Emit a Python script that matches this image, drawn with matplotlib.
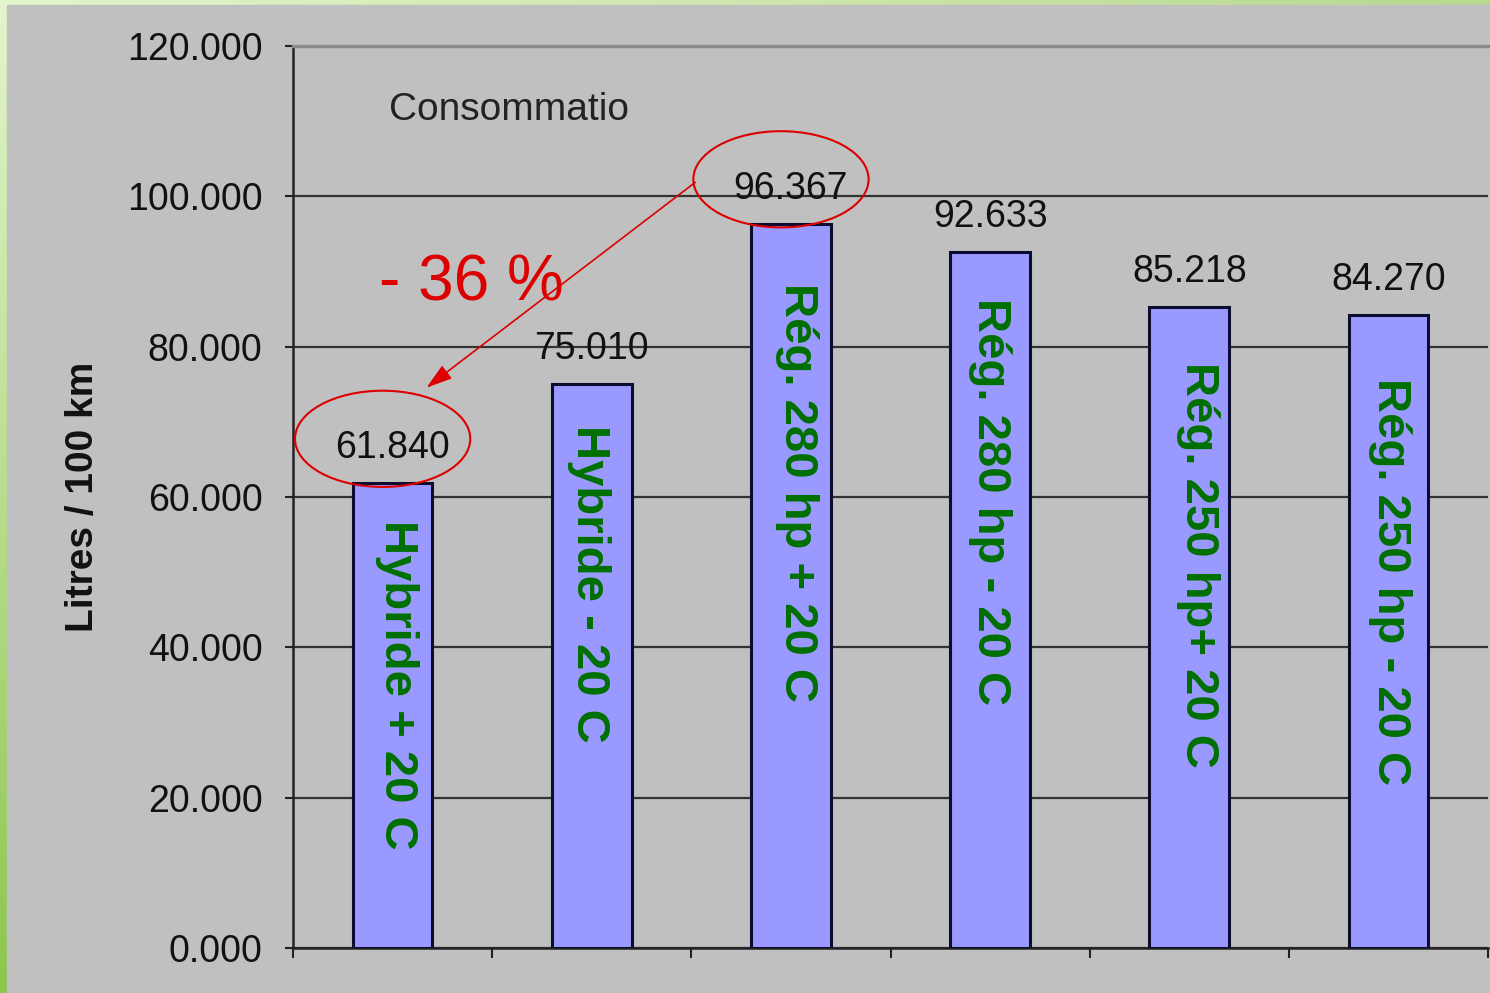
import numpy as np
import matplotlib
matplotlib.use('Agg')
import matplotlib.pyplot as plt
from matplotlib.patches import Ellipse

plt.rcParams['font.family'] = ['Liberation Sans', 'DejaVu Sans']

# --- DATA ---
categories = ['Hybride + 20 C', 'Hybride - 20 C', 'Rég. 280 hp + 20 C',
              'Rég. 280 hp - 20 C', 'Rég. 250 hp+ 20 C', 'Rég. 250 hp - 20 C']
values = [61.840, 75.010, 96.367, 92.633, 85.218, 84.270]
value_labels = ['61.840', '75.010', '96.367', '92.633', '85.218', '84.270']
y_ticks = [0, 20, 40, 60, 80, 100, 120]
y_tick_labels = ['0.000', '20.000', '40.000', '60.000', '80.000', '100.000', '120.000']

# layout of the hand-placed labels inside the bars (drop below bar top, x shift)
LABEL_DROP = [4.9, 5.4, 7.9, 6.2, 7.3, 8.4]
LABEL_SHIFT = [0.02, -0.015, 0.03, 0.0, 0.045, 0.01]

BAR_COLOR = '#9999ff'
EDGE_COLOR = '#0c0c30'
GREEN = '#007000'
RED = '#dd0000'
BG = '#c0c0c0'

W, H = 1490, 993
fig = plt.figure(figsize=(W / 100, H / 100), dpi=100)

# slide border: light green gradient behind a grey panel
bg_ax = fig.add_axes([0, 0, 1, 1])
yy = np.linspace(0, 1, 200)[:, None]
xx = np.linspace(0, 1, 300)[None, :]
top_left = np.array([0.89, 0.96, 0.80])
bottom_left = np.array([0.55, 0.78, 0.30])
top_right = np.array([0.72, 0.85, 0.56])
grad = (top_left * (1 - yy[..., None]) * (1 - xx[..., None])
        + bottom_left * yy[..., None] * (1 - xx[..., None])
        + top_right * (1 - yy[..., None]) * xx[..., None]
        + bottom_left * yy[..., None] * xx[..., None])
bg_ax.imshow(grad, aspect='auto', extent=[0, 1, 0, 1], origin='upper')
bg_ax.add_patch(plt.Rectangle((7 / W, 0), 1, 1 - 5 / H, color=BG, zorder=2))
bg_ax.set_xlim(0, 1)
bg_ax.set_ylim(0, 1)
bg_ax.axis('off')

ax = fig.add_axes([293 / W, 1 - 948 / H, (1488 - 293) / W, (948 - 46) / H])
ax.set_facecolor(BG)

x = np.arange(len(values))
ax.bar(x, values, width=0.40, color=BAR_COLOR, edgecolor=EDGE_COLOR,
       linewidth=2.2, zorder=3)

# value labels above bars
for xi, v, lab in zip(x, values, value_labels):
    ax.annotate(lab, (xi, v), xytext=(0, 18), textcoords='offset points',
                ha='center', va='baseline', fontsize=27, color='#111111', zorder=5)

# rotated category labels inside bars
for xi, v, cat, drop, sh in zip(x, values, categories, LABEL_DROP, LABEL_SHIFT):
    ax.text(xi + sh, v - drop, cat, rotation=-90, ha='center', va='top',
            fontsize=34, fontweight='bold', color=GREEN, zorder=6)

# axes styling
ax.set_xlim(-0.5, len(values) - 0.5)
ax.set_ylim(0, 120)
ax.set_yticks(y_ticks)
ax.set_yticklabels(y_tick_labels, fontsize=27, color='#111111')
ax.set_xticks(np.arange(len(values) + 1) - 0.5)
ax.set_xticklabels([])
ax.tick_params(axis='y', direction='out', length=6, width=1.5, pad=16, color='#222')
ax.tick_params(axis='x', direction='out', length=7, width=1.5, color='#222')
ax.yaxis.grid(True, color='#333333', linewidth=1.6)
ax.set_axisbelow(True)
for side in ['left', 'bottom']:
    ax.spines[side].set_color('#222222')
    ax.spines[side].set_linewidth(1.8)
ax.spines['right'].set_visible(False)
ax.spines['top'].set_color('#8a8a8a')
ax.spines['top'].set_linewidth(2.5)

ax.set_ylabel('Litres / 100 km', fontsize=28, fontweight='bold', color='#111')
ax.yaxis.set_label_coords(-0.161, 0.5)

# chart title fragment
ax.text(-0.02, 111.5, 'Consommatio', ha='left', va='center', fontsize=28,
        color='#222', zorder=5)

# red annotation: circles, arrow and percentage
lo, hi = int(np.argmin(values)), int(np.argmax(values))
for idx in (lo, hi):
    ax.add_patch(Ellipse((idx - 0.05, values[idx] + 5.9), width=0.88, height=12.8,
                         fill=False, edgecolor=RED, linewidth=1.5, zorder=7))
ax.annotate('', xy=(lo + 0.17, values[lo] + 12.7), xytext=(hi - 0.48, values[hi] + 5.5),
            arrowprops=dict(arrowstyle='-|>,head_length=1.6,head_width=0.5',
                            color=RED, linewidth=1.2, shrinkA=0, shrinkB=0),
            zorder=7)
pct = (values[lo] - values[hi]) / values[hi] * 100
ax.text(-0.07, 86.1, f'- {abs(round(pct)):d} %', ha='left', va='baseline',
        fontsize=46, color=RED, zorder=7)

fig.savefig('out.png', dpi=100, facecolor=fig.get_facecolor())
